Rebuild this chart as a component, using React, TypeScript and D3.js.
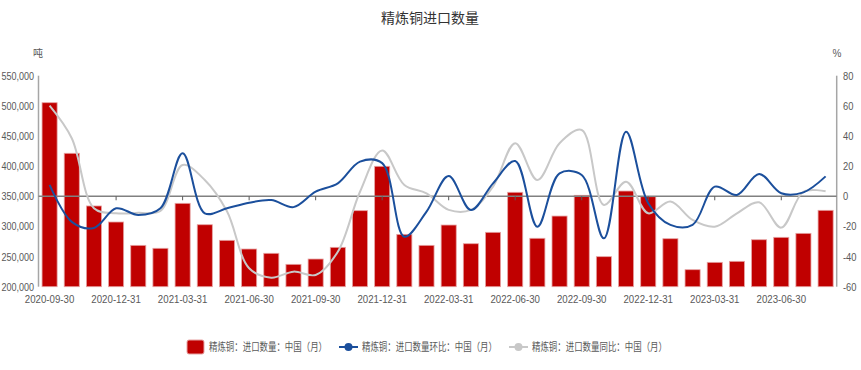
import React, { useEffect, useRef } from 'react';
import * as d3 from 'd3';

const months = [
  '2020-09-30', '2020-10-31', '2020-11-30', '2020-12-31', '2021-01-31', '2021-02-28',
  '2021-03-31', '2021-04-30', '2021-05-31', '2021-06-30', '2021-07-31', '2021-08-31',
  '2021-09-30', '2021-10-31', '2021-11-30', '2021-12-31', '2022-01-31', '2022-02-28',
  '2022-03-31', '2022-04-30', '2022-05-31', '2022-06-30', '2022-07-31', '2022-08-31',
  '2022-09-30', '2022-10-31', '2022-11-30', '2022-12-31', '2023-01-31', '2023-02-28',
  '2023-03-31', '2023-04-30', '2023-05-31', '2023-06-30', '2023-07-31', '2023-08-31',
];

// 进口数量 (吨)
const volume = [
  505200, 421300, 333900, 307300, 268600, 263700, 338300, 302800, 276900, 262500, 255400, 237100,
  245900, 265300, 326100, 399700, 286800, 268600, 302300, 271300, 290200, 356600, 280300, 317200,
  351600, 249800, 358700, 349300, 279600, 228200, 240400, 242100, 277900, 281900, 288500, 326700,
];

// 环比 (%)
const mom = [
  7.5, -17, -21, -8, -12.4, -8, 28.5, -11.3, -8, -4.3, -2.5, -7.2,
  3.1, 8.6, 23, 22, -26.8, -10.2, 13.4, -9.1, 8.6, 23.4, -20.2, 15.2,
  14.1, -27.9, 42.8, -4.6, -19, -19, 6.4, 0.9, 14.8, 2, 2.6, 13.2,
];

// 同比 (%)
const yoy = [
  60.1, 38.5, -7.9, -11.3, -11, -9.8, 20.7, 10.8, -10, -47.8, -54, -50,
  -52.2, -36.8, 3, 30.4, 7.5, 2, -9, -9, 6.4, 35.2, 10.8, 35.2,
  44, -5.8, 9.7, -11.3, -3.5, -15.7, -20.2, -11.3, -4, -20.8, 3, 3.3,
];

const leftTicks = [200000, 250000, 300000, 350000, 400000, 450000, 500000, 550000];
const rightTicks = [-60, -40, -20, 0, 20, 40, 60, 80];

const seriesNames = ['精炼铜：进口数量：中国（月）', '精炼铜：进口数量环比：中国（月）', '精炼铜：进口数量同比：中国（月）'];

const W = 861;
const H = 370;
const FONT = '"Liberation Sans", "Noto Sans CJK SC", sans-serif';

const App: React.FC = () => {
  const svgRef = useRef<SVGSVGElement>(null);

  useEffect(() => {
    if (!svgRef.current) return;
    const svg = d3.select(svgRef.current);
    svg.selectAll('*').remove();

    const left = 38.5;
    const right = 836.7;
    const top = 75.7;
    const bottom = 286.7;

    const x = d3.scaleBand<string>().domain(months).range([left, right]).paddingInner(0.32).paddingOuter(0.16);
    const yL = d3.scaleLinear().domain([200000, 550000]).range([bottom, top]);
    const yR = d3.scaleLinear().domain([-60, 80]).range([bottom, top]);
    const cx = (d: string) => (x(d) || 0) + x.bandwidth() / 2;

    // title + units
    svg.append('text')
      .attr('x', 430).attr('y', 23)
      .attr('text-anchor', 'middle')
      .style('font-family', FONT).style('font-size', '14px').style('fill', '#333')
      .text('精炼铜进口数量');
    svg.append('text').attr('x', 38).attr('y', 57).attr('text-anchor', 'middle')
      .style('font-family', FONT).style('font-size', '10px').style('fill', '#595959').text('吨');
    svg.append('text').attr('x', 837).attr('y', 57).attr('text-anchor', 'middle')
      .style('font-family', FONT).style('font-size', '10px').style('fill', '#595959').text('%');

    // axes lines
    svg.append('line').attr('x1', left).attr('x2', left).attr('y1', top).attr('y2', bottom)
      .attr('stroke', '#a6a6a6').attr('stroke-width', 1.5);
    svg.append('line').attr('x1', right).attr('x2', right).attr('y1', top).attr('y2', bottom)
      .attr('stroke', '#a6a6a6').attr('stroke-width', 1.5);

    // left tick labels
    const fmt = d3.format(',');
    svg.append('g').selectAll('text').data(leftTicks).join('text')
      .attr('transform', d => `translate(34,${yL(d) + 4}) scale(0.82,1)`)
      .attr('text-anchor', 'end')
      .style('font-family', FONT).style('font-size', '11px').style('fill', '#595959')
      .text(d => fmt(d));

    svg.append('g').selectAll('text').data(rightTicks).join('text')
      .attr('transform', d => `translate(843,${yR(d) + 4}) scale(0.85,1)`)
      .attr('text-anchor', 'start')
      .style('font-family', FONT).style('font-size', '11px').style('fill', '#595959')
      .text(d => String(d));

    // bars
    svg.append('g').selectAll('rect').data(months).join('rect')
      .attr('x', d => x(d) || 0)
      .attr('width', x.bandwidth())
      .attr('y', (d, i) => yL(volume[i]))
      .attr('height', (d, i) => yL(200000) - yL(volume[i]))
      .attr('fill', '#c00000')
      .attr('stroke', '#e6a3a3')
      .attr('stroke-width', 0.8);

    // zero line + ticks
    const y0 = yR(0);
    svg.append('line').attr('x1', left).attr('x2', right).attr('y1', y0).attr('y2', y0)
      .attr('stroke', '#808080').attr('stroke-width', 1.5);
    const labeled = months.filter((d, i) => i % 3 === 0);
    svg.append('g').selectAll('line').data(labeled.slice(1)).join('line')
      .attr('x1', d => cx(d)).attr('x2', d => cx(d))
      .attr('y1', y0).attr('y2', y0 + 4)
      .attr('stroke', '#595959').attr('stroke-width', 1);

    // x labels
    svg.append('g').selectAll('text').data(labeled).join('text')
      .attr('transform', d => `translate(${cx(d)},303) scale(0.88,1)`)
      .attr('text-anchor', 'middle')
      .style('font-family', FONT).style('font-size', '11px').style('fill', '#595959')
      .text(d => d);

    // lines
    const line = d3.line<number>()
      .x((d, i) => cx(months[i]))
      .y(d => yR(d))
      .curve(d3.curveCatmullRom.alpha(0.5));

    svg.append('path').attr('d', line(yoy) || '')
      .attr('fill', 'none').attr('stroke', '#c8c8c8').attr('stroke-width', 2);
    svg.append('path').attr('d', line(mom) || '')
      .attr('fill', 'none').attr('stroke', '#1b4f9c').attr('stroke-width', 2);

    // legend
    const lg = svg.append('g').style('font-family', FONT).style('font-size', '11px').style('fill', '#595959');
    const ly = 347;
    lg.append('rect').attr('x', 187).attr('y', ly - 7).attr('width', 17).attr('height', 14)
      .attr('rx', 2).attr('fill', '#c00000').attr('stroke', '#e6a3a3');
    lg.append('text').attr('x', 209).attr('y', ly + 4).attr('textLength', 118).attr('lengthAdjust', 'spacingAndGlyphs')
      .text(seriesNames[0]);

    lg.append('line').attr('x1', 339).attr('x2', 358).attr('y1', ly).attr('y2', ly)
      .attr('stroke', '#1b4f9c').attr('stroke-width', 2);
    lg.append('circle').attr('cx', 348.5).attr('cy', ly).attr('r', 4).attr('fill', '#1b4f9c');
    lg.append('text').attr('x', 362).attr('y', ly + 4).attr('textLength', 135).attr('lengthAdjust', 'spacingAndGlyphs')
      .text(seriesNames[1]);

    lg.append('line').attr('x1', 509).attr('x2', 528).attr('y1', ly).attr('y2', ly)
      .attr('stroke', '#c8c8c8').attr('stroke-width', 2);
    lg.append('circle').attr('cx', 518.5).attr('cy', ly).attr('r', 4).attr('fill', '#c8c8c8');
    lg.append('text').attr('x', 532).attr('y', ly + 4).attr('textLength', 135).attr('lengthAdjust', 'spacingAndGlyphs')
      .text(seriesNames[2]);
  }, []);

  return (
    <svg
      ref={svgRef}
      width={W}
      height={H}
      style={{ position: 'absolute', left: 0, top: 0, background: '#fff' }}
    />
  );
};

export default App;
